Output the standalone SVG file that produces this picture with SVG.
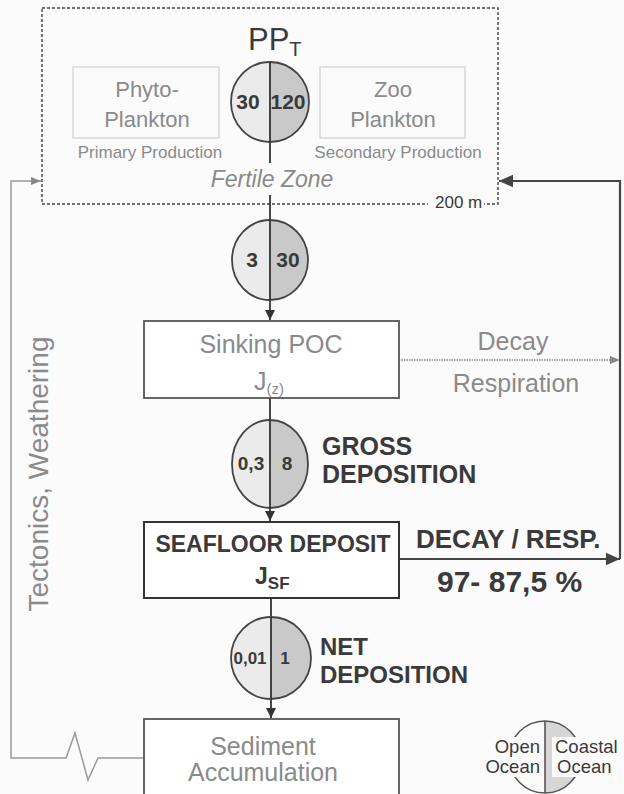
<svg xmlns="http://www.w3.org/2000/svg" width="624" height="794" viewBox="0 0 624 794">
<defs>
<style>
text{font-family:"Liberation Sans",Arial,sans-serif}
.grey{fill:#8a8a8a}
.dark{fill:#3a3a3a}
.bold{font-weight:bold;fill:#3a3a3a}
.lbox{fill:none;stroke:#cfcfcf;stroke-width:1.2}
.box{fill:#fff;stroke:#555;stroke-width:1.8}
.lf{fill:#ebebeb}
.rf{fill:#c9c9c9}
.ol{fill:none;stroke:#444;stroke-width:1.8}
.axis{stroke:#333;stroke-width:1.8;fill:none}
</style>
<marker id="ah" viewBox="0 0 10 10" refX="10" refY="5" markerWidth="10" markerHeight="10" markerUnits="userSpaceOnUse" orient="auto"><path d="M0,0 L10,5 L0,10 Z" fill="#333"/></marker>
<marker id="ahg" viewBox="0 0 10 10" refX="10" refY="5" markerWidth="13" markerHeight="10" markerUnits="userSpaceOnUse" orient="auto"><path d="M0,1 L10,5 L0,9 Z" fill="#888"/></marker>
<marker id="ahb" viewBox="0 0 10 10" refX="10" refY="5" markerWidth="18" markerHeight="14" markerUnits="userSpaceOnUse" orient="auto"><path d="M0,0.5 L10,5 L0,9.5 Z" fill="#444"/></marker>
</defs>
<rect width="624" height="794" fill="#fbfbfb"/>

<g id="fertile-zone">
<rect x="42" y="8" width="456" height="196" fill="none" stroke="#444" stroke-width="1.4" stroke-dasharray="3,2"/>
<rect x="428" y="196" width="56" height="16" fill="#fbfbfb"/>
<text x="435" y="208" font-size="17" class="dark">200 m</text>
<text x="272" y="187" font-size="23" font-style="italic" class="grey" text-anchor="middle">Fertile Zone</text>
</g>

<g id="pp-total">
<text x="248" y="50" font-size="31" class="dark">PP<tspan font-size="20" dy="6">T</tspan></text>
</g>

<g id="phytoplankton">
<rect class="lbox" x="73" y="67" width="146" height="71"/>
<text x="147" y="97" font-size="22" class="grey" text-anchor="middle">Phyto-</text>
<text x="147" y="127" font-size="22" class="grey" text-anchor="middle">Plankton</text>
<text x="150" y="158" font-size="17" class="grey" text-anchor="middle">Primary Production</text>
</g>

<g id="zooplankton">
<rect class="lbox" x="320" y="67" width="145" height="71"/>
<text x="393" y="97" font-size="22" class="grey" text-anchor="middle">Zoo</text>
<text x="393" y="127" font-size="22" class="grey" text-anchor="middle">Plankton</text>
<text x="398" y="158" font-size="17" class="grey" text-anchor="middle">Secondary Production</text>
</g>

<g id="connectors">
<line class="axis" x1="270" y1="62" x2="270" y2="163"/>
<line class="axis" x1="270" y1="195" x2="270" y2="320" marker-end="url(#ah)"/>
<line class="axis" x1="270" y1="398" x2="270" y2="521" marker-end="url(#ah)"/>
<line class="axis" x1="271" y1="598" x2="271" y2="718" marker-end="url(#ah)"/>
<line x1="399" y1="360" x2="620" y2="360" stroke="#8a8a8a" stroke-width="1.5" stroke-dasharray="1.5,1" marker-end="url(#ahg)"/>
<line x1="399" y1="559" x2="620" y2="559" stroke="#444" stroke-width="2.2" marker-end="url(#ahb)"/>
<polyline points="620,559 620,181 499,181" fill="none" stroke="#444" stroke-width="2.2" marker-end="url(#ahb)"/>
<polyline points="144,758 98,758 88,780 75,733 66,758 11,758 11,181 41,181" fill="none" stroke="#999" stroke-width="1.5" marker-end="url(#ahg)"/>
<text transform="translate(48,474) rotate(-90)" font-size="28" class="grey" text-anchor="middle">Tectonics, Weathering</text>
</g>

<g id="flux-pp">
<path class="lf" d="M270,62 A39,40 0 0 0 270,142 Z"/>
<path class="rf" d="M270,62 A39,40 0 0 1 270,142 Z"/>
<ellipse class="ol" cx="270" cy="102" rx="39" ry="40"/>
<line class="axis" x1="270" y1="62" x2="270" y2="142"/>
<text x="248" y="109" font-size="21" class="bold" text-anchor="middle">30</text>
<text x="288" y="109" font-size="21" class="bold" text-anchor="middle">120</text>
</g>

<g id="flux-export">
<path class="lf" d="M270,220 A38,40 0 0 0 270,300 Z"/>
<path class="rf" d="M270,220 A38,40 0 0 1 270,300 Z"/>
<ellipse class="ol" cx="270" cy="260" rx="38" ry="40"/>
<line class="axis" x1="270" y1="220" x2="270" y2="300"/>
<text x="252" y="267" font-size="21" class="bold" text-anchor="middle">3</text>
<text x="288" y="267" font-size="21" class="bold" text-anchor="middle">30</text>
</g>

<g id="sinking-poc">
<rect class="box" x="144" y="321" width="255" height="77"/>
<text x="271" y="353" font-size="25" class="grey" text-anchor="middle">Sinking POC</text>
<text x="254" y="390" font-size="25" class="grey">J<tspan font-size="15" dy="4">(z)</tspan></text>
<text x="513" y="350" font-size="25" class="grey" text-anchor="middle">Decay</text>
<text x="516" y="392" font-size="25" class="grey" text-anchor="middle">Respiration</text>
</g>

<g id="flux-gross">
<path class="lf" d="M270,420 A38,44 0 0 0 270,508 Z"/>
<path class="rf" d="M270,420 A38,44 0 0 1 270,508 Z"/>
<ellipse class="ol" cx="270" cy="464" rx="38" ry="44"/>
<line class="axis" x1="270" y1="420" x2="270" y2="508"/>
<text x="251" y="470" font-size="19" class="bold" text-anchor="middle">0,3</text>
<text x="287" y="470" font-size="19" class="bold" text-anchor="middle">8</text>
<text x="322" y="455" font-size="25" class="bold">GROSS</text>
<text x="322" y="483" font-size="25" class="bold">DEPOSITION</text>
</g>

<g id="seafloor-deposit">
<rect x="144" y="522" width="255" height="76" fill="#fff" stroke="#333" stroke-width="2"/>
<text x="273" y="552" font-size="23" class="bold" text-anchor="middle">SEAFLOOR DEPOSIT</text>
<text x="255" y="584" font-size="23" class="bold">J<tspan font-size="17" dy="5">SF</tspan></text>
<text x="416" y="548" font-size="26" class="bold">DECAY / RESP.</text>
<text x="437" y="592" font-size="30" class="bold">97- 87,5 %</text>
</g>

<g id="flux-net">
<path class="lf" d="M271,617 A40,41 0 0 0 271,699 Z"/>
<path class="rf" d="M271,617 A40,41 0 0 1 271,699 Z"/>
<ellipse class="ol" cx="271" cy="658" rx="40" ry="41"/>
<line class="axis" x1="271" y1="617" x2="271" y2="699"/>
<text x="250" y="664" font-size="17" class="bold" text-anchor="middle">0,01</text>
<text x="285" y="664" font-size="17" class="bold" text-anchor="middle">1</text>
<text x="320" y="655" font-size="24" class="bold">NET</text>
<text x="320" y="683" font-size="24" class="bold">DEPOSITION</text>
</g>

<g id="sediment-accumulation">
<rect class="box" x="144" y="719" width="255" height="90"/>
<text x="263" y="755" font-size="25" class="grey" text-anchor="middle">Sediment</text>
<text x="263" y="781" font-size="25" class="grey" text-anchor="middle">Accumulation</text>
</g>

<g id="legend">
<path d="M545,721 A36,36 0 0 1 545,793 Z" fill="#d6d6d6"/>
<circle cx="545" cy="757" r="36" fill="none" stroke="#555" stroke-width="1.6"/>
<line x1="545" y1="721" x2="545" y2="793" stroke="#555" stroke-width="1.6"/>
<rect x="489" y="737" width="54" height="40" fill="#fbfbfb"/>
<rect x="552" y="737" width="72" height="40" fill="#fbfbfb"/>
<text x="540" y="753" font-size="18.5" class="dark" text-anchor="end">Open</text>
<text x="540" y="773" font-size="18.5" class="dark" text-anchor="end">Ocean</text>
<text x="555" y="753" font-size="18.5" class="dark">Coastal</text>
<text x="557" y="773" font-size="18.5" class="dark">Ocean</text>
</g>
</svg>
